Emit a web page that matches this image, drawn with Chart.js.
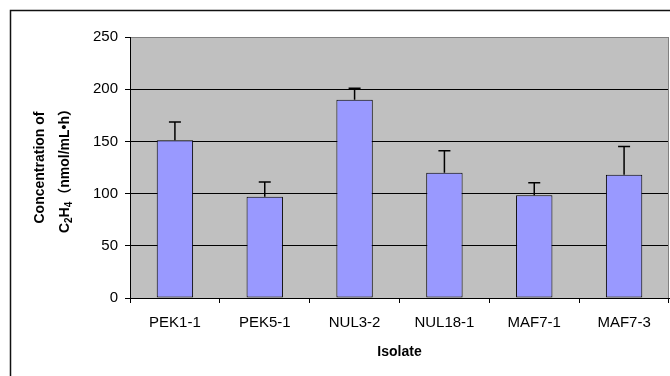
<!DOCTYPE html>
<html>
<head>
<meta charset="utf-8">
<script src="https://cdn.jsdelivr.net/npm/chart.js@4.4.0/dist/chart.umd.min.js"></script>
<style>
  html, body { margin: 0; padding: 0; background: #fff; }
  canvas { display: block; }
</style>
</head>
<body>
<canvas id="myChart" width="670" height="376"></canvas>
<script>
const isolates = ['PEK1-1', 'PEK5-1', 'NUL3-2', 'NUL18-1', 'MAF7-1', 'MAF7-3'];
const ethylene = [151, 97, 190, 120, 98.5, 118];
const errors = [17.5, 14, 11, 21, 12, 27];
const yTicks = [0, 50, 100, 150, 200, 250];

Chart.defaults.font.family = '"Liberation Sans", Arial, sans-serif';
Chart.defaults.color = '#000';

// grey plot background + frame round the whole picture
const background = {
    id: 'background',
    beforeDraw(chart) {
        const c = chart.ctx;
        const a = chart.chartArea;
        c.save();
        c.fillStyle = '#C0C0C0';
        c.fillRect(a.left, a.top, a.right - a.left, a.bottom - a.top);
        c.strokeStyle = '#111';
        c.lineWidth = 1.5;
        c.beginPath();
        c.moveTo(10.5, 376);
        c.lineTo(10.5, 10.5);
        c.lineTo(670, 10.5);
        c.stroke();
        c.restore();
    },
    afterDraw(chart) {
        const c = chart.ctx;
        const a = chart.chartArea;
        c.save();
        c.strokeStyle = '#808080';
        c.lineWidth = 1;
        c.beginPath();
        c.moveTo(a.right - 0.5, a.top);
        c.lineTo(a.right - 0.5, a.bottom);
        c.stroke();

        // y title with real subscripts
        c.fillStyle = '#000';
        c.translate(40, (a.top + a.bottom) / 2);
        c.rotate(-Math.PI / 2);
        c.textBaseline = 'middle';
        c.textAlign = 'center';
        c.font = 'bold 14px "Liberation Sans", Arial, sans-serif';
        c.fillText('Concentration of', 0, 0);

        const parts = [['C', 0], ['2', 1], ['H', 0], ['4', 1], ['（nmol/mL•h）', 0]];
        const big = 'bold 14px "Liberation Sans", Arial, "Noto Sans CJK SC", sans-serif';
        const small = 'bold 10px "Liberation Sans", Arial, sans-serif';
        let w = 0;
        parts.forEach(p => { c.font = p[1] ? small : big; w += c.measureText(p[0]).width; });
        let x = -w / 2;
        c.textAlign = 'left';
        parts.forEach(p => {
            c.font = p[1] ? small : big;
            c.fillText(p[0], x, 25 + (p[1] ? 4 : 0));
            x += c.measureText(p[0]).width;
        });
        c.restore();
    }
};

const errorBars = {
    id: 'errorBars',
    afterDatasetsDraw(chart) {
        const c = chart.ctx;
        const y = chart.scales.y;
        const meta = chart.getDatasetMeta(0);
        c.save();
        c.strokeStyle = '#000';
        c.lineWidth = 1.5;
        meta.data.forEach((bar, i) => {
            const top = y.getPixelForValue(ethylene[i] + errors[i]);
            c.beginPath();
            c.moveTo(bar.x, bar.y);
            c.lineTo(bar.x, top);
            c.moveTo(bar.x - 6, top);
            c.lineTo(bar.x + 6, top);
            c.stroke();
        });
        c.restore();
    }
};

let chart = {
    type: 'bar',
    data: {
        labels: isolates,
        datasets: [{
            data: ethylene,
            backgroundColor: '#9999FF',
            borderColor: '#000',
            borderWidth: 1,
            borderSkipped: false,
            barPercentage: 0.405,
            categoryPercentage: 1
        }]
    },
    options: {
        responsive: false,
        animation: false,
        layout: { padding: { top: 37, right: 1, left: 0, bottom: 0 } },
        plugins: { legend: { display: false }, tooltip: { enabled: false } },
        scales: {
            x: {
                afterFit: s => { s.height = 78; },
                grid: { offset: true, drawOnChartArea: false, color: '#000', tickLength: 5 },
                border: { color: '#000' },
                ticks: { font: { size: 15 }, padding: 11, maxRotation: 0 },
                title: {
                    display: true,
                    text: 'Isolate',
                    font: { size: 14, weight: 'bold' },
                    padding: { top: 0, bottom: 15 }
                }
            },
            y: {
                min: 0,
                max: 250,
                afterFit: s => { s.width = 130; },
                afterBuildTicks: s => { s.ticks = yTicks.map(v => ({ value: v })); },
                grid: {
                    color: ctx => ctx.tick && ctx.tick.value === 250 ? '#808080' : '#000',
                    tickColor: '#000',
                    tickLength: 5
                },
                border: { color: '#000' },
                ticks: { font: { size: 15 }, padding: 7 }
            }
        }
    },
    plugins: [background, errorBars]
};

const ctx = document.getElementById('myChart').getContext('2d');
const myChart = new Chart(ctx, chart);
</script>
</body>
</html>
